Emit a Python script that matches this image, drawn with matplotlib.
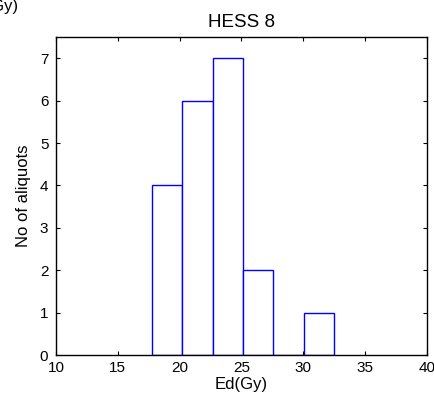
import matplotlib
matplotlib.use("Agg")
import matplotlib.pyplot as plt

plt.rcParams["font.family"] = ["Liberation Sans", "DejaVu Sans"]

# histogram data
bin_left = [17.74, 20.20, 22.66, 25.12, 27.58, 30.04]
bin_width = 2.46
counts = [4, 6, 7, 2, 0, 1]

xticks = [10, 15, 20, 25, 30, 35, 40]
yticks = [0, 1, 2, 3, 4, 5, 6, 7]

fig = plt.figure(figsize=(4.35, 4.01), dpi=100)
ax = fig.add_axes([0.1287, 0.1147, 0.8529, 0.7930])

ax.bar(bin_left, counts, width=bin_width, align="edge",
       facecolor="white", edgecolor="#0000ff", linewidth=1.0, zorder=2)

ax.set_xlim(10, 40)
ax.set_ylim(0, 7.5)
ax.set_xticks(xticks)
ax.set_yticks(yticks)
ax.tick_params(direction="in", top=True, right=True, length=3,
               labelsize=11, width=0.8)
ax.tick_params(axis="x", pad=4.5)
ax.tick_params(axis="y", pad=5.5)
for s in ax.spines.values():
    s.set_linewidth(1.0)
    s.set_color("black")

ax.set_xlabel("Ed(Gy)", fontsize=12, va="center")
ax.xaxis.set_label_coords(0.5, -0.094)
ax.set_ylabel("No of aliquots", fontsize=12, va="center")
ax.yaxis.set_label_coords(-0.088, 0.5)
ax.set_title("HESS 8", fontsize=13.5, pad=7)

# leftover label from a neighbouring panel, clipped at the edge
fig.text(19 / 435, 1 - 6 / 401, "Ed(Gy)", ha="right", va="center", fontsize=12)

fig.savefig("out.png", dpi=100)
